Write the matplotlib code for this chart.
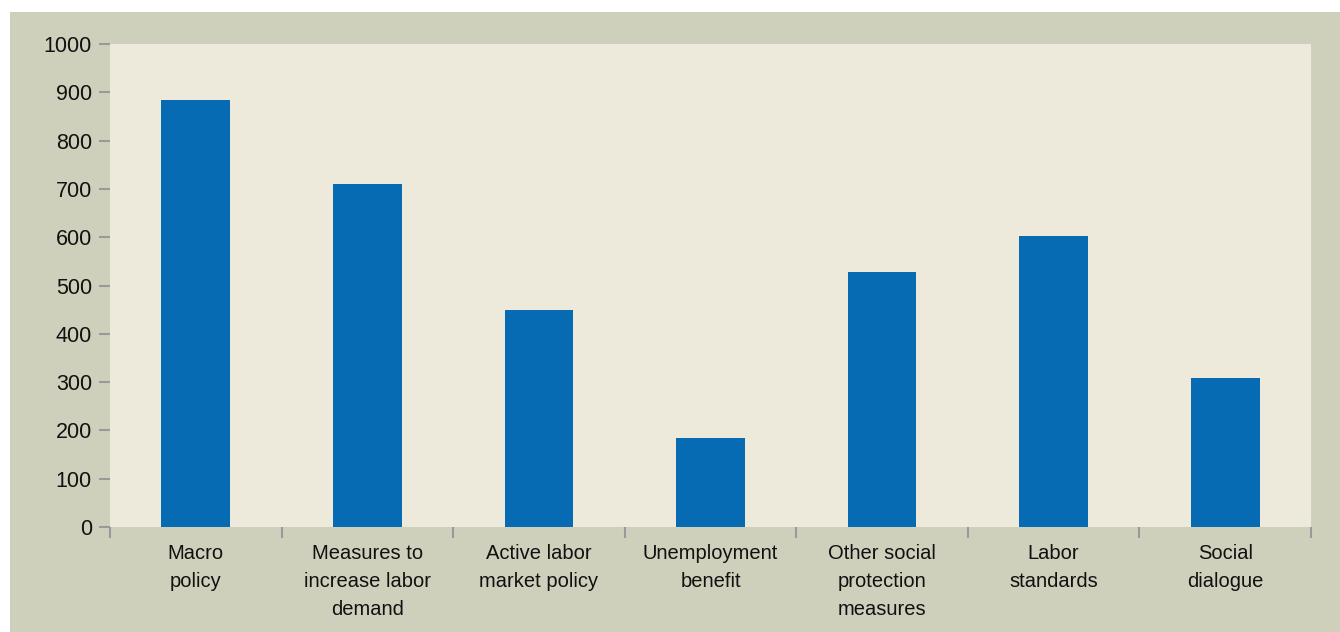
import numpy as np
import matplotlib.pyplot as plt
from matplotlib.patches import Rectangle

categories = ["Macro\npolicy", "Measures to\nincrease labor\ndemand", "Active labor\nmarket policy",
              "Unemployment\nbenefit", "Other social\nprotection\nmeasures", "Labor\nstandards",
              "Social\ndialogue"]
values = [884, 710, 449, 184, 528, 602, 308]
yticks = list(range(0, 1001, 100))

plt.rcParams['font.family'] = ['Liberation Sans', 'DejaVu Sans']

fig = plt.figure(figsize=(13.4, 6.32), dpi=100, facecolor='white')
fig.patches.append(Rectangle((10 / 1340, 0), 1, 1 - 12 / 632, transform=fig.transFigure,
                             facecolor='#CFD0BC', edgecolor='none', zorder=-1))
ax = fig.add_axes([110 / 1340, 1 - 527 / 632, (1311 - 110) / 1340, (527 - 44) / 632])
ax.set_facecolor('#EDEADB')

x = np.arange(len(categories))
ax.bar(x, values, width=0.40, color='#066BB3')
ax.set_xlim(-0.5, len(categories) - 0.5)
ax.set_ylim(0, 1000)
ax.set_yticks(yticks)
ax.tick_params(axis='y', length=8, width=1.5, color='#999999', pad=5, labelsize=15.5,
               labelcolor='#111111')

ax.set_xticks(x)
ax.set_xticklabels(categories, fontsize=14.5, linespacing=1.6, color='#111111')
ax.tick_params(axis='x', length=0, pad=12)
ax.set_xticks(np.arange(-0.5, len(categories)), minor=True)
ax.tick_params(axis='x', which='minor', length=8, width=1.5, color='#999999', direction='out')

for s in ax.spines.values():
    s.set_visible(False)

fig.savefig('out.png', dpi=100, facecolor=fig.get_facecolor())
